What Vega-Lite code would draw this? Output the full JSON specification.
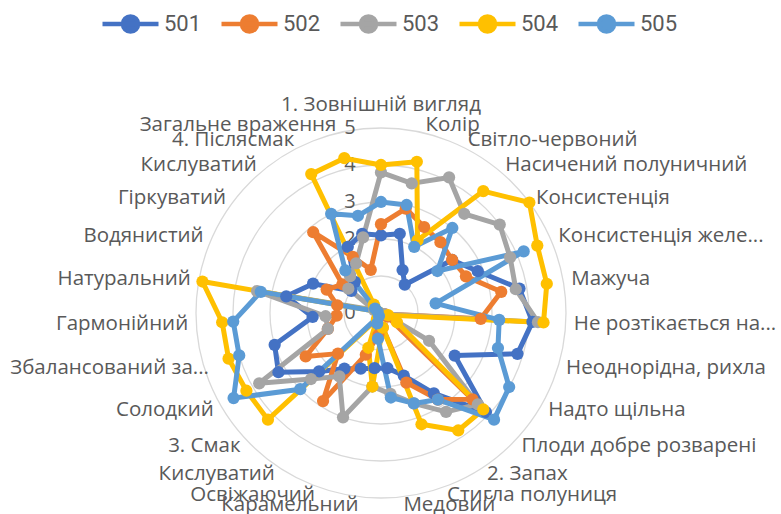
{
  "$schema": "https://vega.github.io/schema/vega-lite/v6.json",
  "width": 781,
  "height": 514,
  "autosize": "none",
  "padding": 0,
  "background": "#ffffff",
  "config": {"view": {"stroke": null}},
  "datasets": {
    "rings": [{"r": 1}, {"r": 2}, {"r": 3}, {"r": 4}, {"r": 5}],
    "ticks": [{"r": 0}, {"r": 1}, {"r": 2}, {"r": 3}, {"r": 4}, {"r": 5}],
    "cats": [
      {"k": 0, "label": "1. Зовнішній вигляд"},
      {"k": 1, "label": "Колір"},
      {"k": 2, "label": "Світло-червоний"},
      {"k": 3, "label": "Насичений полуничний"},
      {"k": 4, "label": "Консистенція"},
      {"k": 5, "label": "Консистенція желе..."},
      {"k": 6, "label": "Мажуча"},
      {"k": 7, "label": "Не розтікається на..."},
      {"k": 8, "label": "Неоднорідна, рихла"},
      {"k": 9, "label": "Надто щільна"},
      {"k": 10, "label": "Плоди добре розварені"},
      {"k": 11, "label": "2. Запах"},
      {"k": 12, "label": "Стигла полуниця"},
      {"k": 13, "label": "Медовий"},
      {"k": 14, "label": "Карамельний"},
      {"k": 15, "label": "Освіжаючий"},
      {"k": 16, "label": "Кислуватий"},
      {"k": 17, "label": "3. Смак"},
      {"k": 18, "label": "Солодкий"},
      {"k": 19, "label": "Збалансований за..."},
      {"k": 20, "label": "Гармонійний"},
      {"k": 21, "label": "Натуральний"},
      {"k": 22, "label": "Водянистий"},
      {"k": 23, "label": "Гіркуватий"},
      {"k": 24, "label": "Кислуватий"},
      {"k": 25, "label": "4. Післясмак"},
      {"k": 26, "label": "Загальне враження"}
    ],
    "scores": [
      {"s": "501", "k": 0, "v": 2.1}, {"s": "501", "k": 1, "v": 2.2}, {"s": "501", "k": 2, "v": 1.3}, {"s": "501", "k": 3, "v": 1.0}, {"s": "501", "k": 4, "v": 2.4}, {"s": "501", "k": 5, "v": 2.85}, {"s": "501", "k": 6, "v": 3.8}, {"s": "501", "k": 7, "v": 4.1}, {"s": "501", "k": 8, "v": 3.85}, {"s": "501", "k": 9, "v": 2.3}, {"s": "501", "k": 10, "v": 3.9}, {"s": "501", "k": 11, "v": 2.6}, {"s": "501", "k": 12, "v": 1.8}, {"s": "501", "k": 13, "v": 1.5}, {"s": "501", "k": 14, "v": 1.5}, {"s": "501", "k": 15, "v": 1.6}, {"s": "501", "k": 16, "v": 1.8}, {"s": "501", "k": 17, "v": 2.3}, {"s": "501", "k": 18, "v": 3.2}, {"s": "501", "k": 19, "v": 3.0}, {"s": "501", "k": 20, "v": 1.85}, {"s": "501", "k": 21, "v": 2.6}, {"s": "501", "k": 22, "v": 2.0}, {"s": "501", "k": 23, "v": 1.0}, {"s": "501", "k": 24, "v": 1.1}, {"s": "501", "k": 25, "v": 2.0}, {"s": "501", "k": 26, "v": 2.2},
      {"s": "502", "k": 0, "v": 2.4}, {"s": "502", "k": 1, "v": 2.9}, {"s": "502", "k": 2, "v": 2.6}, {"s": "502", "k": 3, "v": 2.5}, {"s": "502", "k": 4, "v": 2.4}, {"s": "502", "k": 5, "v": 2.5}, {"s": "502", "k": 6, "v": 3.3}, {"s": "502", "k": 7, "v": 2.7}, {"s": "502", "k": 8, "v": 0.1}, {"s": "502", "k": 9, "v": 0.2}, {"s": "502", "k": 10, "v": 3.4}, {"s": "502", "k": 11, "v": 2.8}, {"s": "502", "k": 12, "v": 2.0}, {"s": "502", "k": 13, "v": 0.4}, {"s": "502", "k": 14, "v": 0.6}, {"s": "502", "k": 15, "v": 1.2}, {"s": "502", "k": 16, "v": 2.85}, {"s": "502", "k": 17, "v": 1.6}, {"s": "502", "k": 18, "v": 2.35}, {"s": "502", "k": 19, "v": 1.5}, {"s": "502", "k": 20, "v": 1.2}, {"s": "502", "k": 21, "v": 1.2}, {"s": "502", "k": 22, "v": 1.6}, {"s": "502", "k": 23, "v": 1.3}, {"s": "502", "k": 24, "v": 2.85}, {"s": "502", "k": 25, "v": 1.7}, {"s": "502", "k": 26, "v": 1.2},
      {"s": "503", "k": 0, "v": 3.8}, {"s": "503", "k": 1, "v": 3.6}, {"s": "503", "k": 2, "v": 4.1}, {"s": "503", "k": 3, "v": 3.5}, {"s": "503", "k": 4, "v": 4.0}, {"s": "503", "k": 5, "v": 3.8}, {"s": "503", "k": 6, "v": 3.7}, {"s": "503", "k": 7, "v": 4.25}, {"s": "503", "k": 8, "v": 0.1}, {"s": "503", "k": 9, "v": 1.5}, {"s": "503", "k": 10, "v": 3.6}, {"s": "503", "k": 11, "v": 3.2}, {"s": "503", "k": 12, "v": 2.6}, {"s": "503", "k": 13, "v": 2.2}, {"s": "503", "k": 14, "v": 2.0}, {"s": "503", "k": 15, "v": 3.0}, {"s": "503", "k": 16, "v": 2.05}, {"s": "503", "k": 17, "v": 2.6}, {"s": "503", "k": 18, "v": 3.8}, {"s": "503", "k": 19, "v": 1.5}, {"s": "503", "k": 20, "v": 1.5}, {"s": "503", "k": 21, "v": 3.4}, {"s": "503", "k": 22, "v": 0.2}, {"s": "503", "k": 23, "v": 1.1}, {"s": "503", "k": 24, "v": 1.3}, {"s": "503", "k": 25, "v": 1.5}, {"s": "503", "k": 26, "v": 2.1},
      {"s": "504", "k": 0, "v": 4.0}, {"s": "504", "k": 1, "v": 4.2}, {"s": "504", "k": 2, "v": 2.2}, {"s": "504", "k": 3, "v": 4.3}, {"s": "504", "k": 4, "v": 5.0}, {"s": "504", "k": 5, "v": 4.6}, {"s": "504", "k": 6, "v": 4.55}, {"s": "504", "k": 7, "v": 4.4}, {"s": "504", "k": 8, "v": 0.2}, {"s": "504", "k": 9, "v": 0.5}, {"s": "504", "k": 10, "v": 3.8}, {"s": "504", "k": 11, "v": 3.8}, {"s": "504", "k": 12, "v": 3.2}, {"s": "504", "k": 13, "v": 0.4}, {"s": "504", "k": 14, "v": 2.0}, {"s": "504", "k": 15, "v": 1.0}, {"s": "504", "k": 16, "v": 0.2}, {"s": "504", "k": 17, "v": 4.2}, {"s": "504", "k": 18, "v": 4.2}, {"s": "504", "k": 19, "v": 4.3}, {"s": "504", "k": 20, "v": 4.3}, {"s": "504", "k": 21, "v": 4.9}, {"s": "504", "k": 22, "v": 0.1}, {"s": "504", "k": 23, "v": 0.2}, {"s": "504", "k": 24, "v": 0.3}, {"s": "504", "k": 25, "v": 4.2}, {"s": "504", "k": 26, "v": 4.3},
      {"s": "505", "k": 0, "v": 3.0}, {"s": "505", "k": 1, "v": 3.0}, {"s": "505", "k": 2, "v": 2.0}, {"s": "505", "k": 3, "v": 3.0}, {"s": "505", "k": 4, "v": 1.9}, {"s": "505", "k": 5, "v": 4.2}, {"s": "505", "k": 6, "v": 1.5}, {"s": "505", "k": 7, "v": 3.2}, {"s": "505", "k": 8, "v": 3.3}, {"s": "505", "k": 9, "v": 4.0}, {"s": "505", "k": 10, "v": 4.2}, {"s": "505", "k": 11, "v": 2.8}, {"s": "505", "k": 12, "v": 2.6}, {"s": "505", "k": 13, "v": 2.3}, {"s": "505", "k": 14, "v": 0.7}, {"s": "505", "k": 15, "v": 0.3}, {"s": "505", "k": 16, "v": 0.1}, {"s": "505", "k": 17, "v": 3.0}, {"s": "505", "k": 18, "v": 4.6}, {"s": "505", "k": 19, "v": 4.0}, {"s": "505", "k": 20, "v": 4.0}, {"s": "505", "k": 21, "v": 3.3}, {"s": "505", "k": 22, "v": 0.1}, {"s": "505", "k": 23, "v": 0.2}, {"s": "505", "k": 24, "v": 1.5}, {"s": "505", "k": 25, "v": 3.0}, {"s": "505", "k": 26, "v": 2.7}
    ]
  },
  "layer": [
    {
      "data": {"name": "rings"},
      "mark": {"type": "point", "shape": "circle", "filled": false, "stroke": "#d9d9d9", "strokeWidth": 1.3, "opacity": 1},
      "encoding": {
        "x": {"datum": 0, "type": "quantitative", "scale": {"domain": [-10.297, 10.811], "nice": false, "zero": false}, "axis": null},
        "y": {"datum": 0, "type": "quantitative", "scale": {"domain": [-5.432, 8.459], "nice": false, "zero": false}, "axis": null},
        "size": {"field": "r", "type": "quantitative", "scale": {"type": "pow", "exponent": 2, "domain": [0, 5], "range": [0, 136900], "zero": true}, "legend": null}
      }
    },
    {
      "data": {"name": "ticks"},
      "mark": {"type": "text", "font": "Open Sans", "fontSize": 20, "color": "#595959", "align": "center", "baseline": "middle"},
      "encoding": {
        "x": {"datum": -0.84, "type": "quantitative", "axis": null},
        "y": {"field": "r", "type": "quantitative", "axis": null},
        "text": {"field": "r", "type": "quantitative"}
      }
    },
    {
      "data": {"name": "cats"},
      "transform": [
        {"filter": "datum.k >= 1 && datum.k <= 13"},
        {"calculate": "5.22 * sin(datum.k * 2 * PI / 27)", "as": "lx"},
        {"calculate": "5.22 * cos(datum.k * 2 * PI / 27)", "as": "ly"}
      ],
      "mark": {"type": "text", "font": "Open Sans", "fontSize": 20.5, "color": "#595959", "align": "left", "baseline": "middle"},
      "encoding": {
        "x": {"field": "lx", "type": "quantitative", "axis": null},
        "y": {"field": "ly", "type": "quantitative", "axis": null},
        "text": {"field": "label"}
      }
    },
    {
      "data": {"name": "cats"},
      "transform": [
        {"filter": "datum.k >= 14 && datum.k != 19"},
        {"calculate": "5.22 * sin(datum.k * 2 * PI / 27)", "as": "lx"},
        {"calculate": "5.22 * cos(datum.k * 2 * PI / 27)", "as": "ly"}
      ],
      "mark": {"type": "text", "font": "Open Sans", "fontSize": 20.5, "color": "#595959", "align": "right", "baseline": "middle"},
      "encoding": {
        "x": {"field": "lx", "type": "quantitative", "axis": null},
        "y": {"field": "ly", "type": "quantitative", "axis": null},
        "text": {"field": "label"}
      }
    },
    {
      "data": {"name": "cats"},
      "transform": [
        {"filter": "datum.k == 19"},
        {"calculate": "5.22 * sin(datum.k * 2 * PI / 27)", "as": "lx"},
        {"calculate": "5.22 * cos(datum.k * 2 * PI / 27)", "as": "ly"}
      ],
      "mark": {"type": "text", "font": "Open Sans", "fontSize": 20.5, "color": "#595959", "align": "right", "baseline": "middle", "dx": 13},
      "encoding": {
        "x": {"field": "lx", "type": "quantitative", "axis": null},
        "y": {"field": "ly", "type": "quantitative", "axis": null},
        "text": {"field": "label"}
      }
    },
    {
      "data": {"name": "cats"},
      "transform": [
        {"filter": "datum.k == 0"},
        {"calculate": "0", "as": "lx"},
        {"calculate": "5.45", "as": "ly"}
      ],
      "mark": {"type": "text", "font": "Open Sans", "fontSize": 20.5, "color": "#595959", "align": "center", "baseline": "alphabetic"},
      "encoding": {
        "x": {"field": "lx", "type": "quantitative", "axis": null},
        "y": {"field": "ly", "type": "quantitative", "axis": null},
        "text": {"field": "label"}
      }
    },
    {
      "data": {"name": "scores"},
      "transform": [
        {"calculate": "datum.v * sin(datum.k * 2 * PI / 27)", "as": "px"},
        {"calculate": "datum.v * cos(datum.k * 2 * PI / 27)", "as": "py"}
      ],
      "mark": {"type": "line", "interpolate": "linear-closed", "strokeWidth": 5, "strokeJoin": "round"},
      "encoding": {
        "x": {"field": "px", "type": "quantitative", "axis": null},
        "y": {"field": "py", "type": "quantitative", "axis": null},
        "order": {"field": "k", "type": "quantitative"},
        "color": {
          "field": "s", "type": "nominal",
          "scale": {"domain": ["501", "502", "503", "504", "505"], "range": ["#4472C4", "#ED7D31", "#A5A5A5", "#FFC000", "#5B9BD5"]},
          "legend": {
            "title": null, "orient": "none", "direction": "horizontal", "legendX": 100, "legendY": -7,
            "symbolType": "M-1,0L1,0M-0.27,0A0.27,0.27,0,1,1,0.27,0A0.27,0.27,0,1,1,-0.27,0Z",
            "symbolSize": 3136, "symbolStrokeWidth": 4.5,
            "labelFont": "Roboto", "labelFontSize": 22, "labelColor": "#595959",
            "labelOffset": 3, "columnPadding": 10,
            "encode": {"symbols": {"update": {"fill": {"scale": "color", "field": "value"}, "stroke": {"scale": "color", "field": "value"}, "opacity": {"value": 1}}}}
          }
        }
      }
    },
    {
      "data": {"name": "scores"},
      "transform": [
        {"calculate": "datum.v * sin(datum.k * 2 * PI / 27)", "as": "px"},
        {"calculate": "datum.v * cos(datum.k * 2 * PI / 27)", "as": "py"}
      ],
      "mark": {"type": "point", "filled": true, "size": 150, "opacity": 1},
      "encoding": {
        "x": {"field": "px", "type": "quantitative", "axis": null},
        "y": {"field": "py", "type": "quantitative", "axis": null},
        "color": {"field": "s", "type": "nominal", "legend": null}
      }
    }
  ]
}
